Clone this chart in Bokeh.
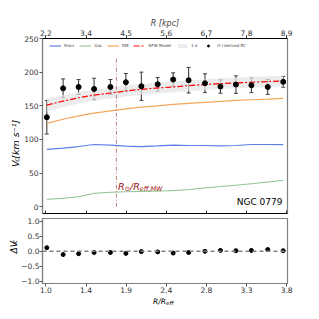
import numpy as np
from bokeh.plotting import figure
from bokeh.models import (ColumnDataSource, FixedTicker, LinearAxis, Range1d, Label,
                          Span, Legend, LegendItem, Whisker, TeeHead)
from bokeh.core.properties import value
from bokeh.layouts import column, row
from bokeh.embed import file_html
from bokeh.resources import INLINE

# ---------------- data ----------------
r_reff = [1.01, 1.20, 1.38, 1.56, 1.75, 1.93, 2.11, 2.30, 2.48, 2.66, 2.85, 3.03, 3.21, 3.39, 3.58, 3.76]
v_obs = [133, 176, 178, 175, 178, 185, 179, 182, 189, 188, 183.6, 178.6, 181.5, 180.6, 178, 185.6]
v_err = [25, 14, 11, 16, 11, 13, 21, 10, 10, 19, 14, 10, 13, 11, 11, 8]
v_stars = [85.3, 87, 89.5, 92.5, 91.5, 90, 89.5, 90.5, 91.5, 91, 91, 90.5, 91, 92.5, 92.5, 92.3]
v_gas = [11, 12.5, 15, 20, 21.5, 22.3, 22.8, 23.2, 24, 25.5, 28, 30, 32, 34.2, 36.8, 39.3]
v_dm = [124, 130, 135, 139, 142.5, 145.5, 148, 150, 152, 153.5, 155, 156.5, 158, 159, 160, 161]
v_nfw = [151, 157, 162, 166, 169, 172, 174.5, 176.5, 178, 180, 181.5, 183, 184, 185, 186, 187]
nfw_lo = [141, 148, 153.5, 158, 161, 164, 166.5, 168.5, 170, 172, 173.5, 175, 176, 177, 178, 179]
nfw_hi = [161, 166, 170.5, 174, 177, 180, 182.5, 184.5, 186, 188, 189.5, 191, 192, 193, 194, 195]
dv_res = [0.12, -0.11, -0.08, -0.04, -0.04, -0.07, -0.01, -0.02, -0.06, -0.04, 0.0, 0.03, 0.02, 0.03, 0.06, 0.02]

r_sun_reff = 1.82
r_sun_vtop = 222
r_sun_text_v = 30

x_tick_labels = ["1.0", "1.4", "1.9", "2.4", "2.8", "3.3", "3.8"]
kpc_tick_labels = ["2.2", "3.4", "4.5", "5.6", "6.7", "7.8", "8.9"]
y_ticks = [0, 50, 100, 150, 200, 250]
res_ticks = [-1.0, -0.5, 0.0, 0.5, 1.0]
res_tick_labels = ["\u22121.0", "\u22120.5", "0.0", "0.5", "1.0"]
galaxy_name = "NGC 0779"

FONT = "DejaVu Sans"
TICK_FS = "7.5px"
TICK_COLOR = "#333333"

x_ticks = [round(float(t), 4) for t in np.linspace(1.0, 3.8, 7)]

src = ColumnDataSource(dict(
    r=r_reff, v=v_obs, lo=[a - b for a, b in zip(v_obs, v_err)], hi=[a + b for a, b in zip(v_obs, v_err)],
    stars=v_stars, gas=v_gas, dm=v_dm, nfw=v_nfw, nlo=nfw_lo, nhi=nfw_hi, res=dv_res,
))

xr = Range1d(0.96, 3.81)


def text_fig(w, h):
    f = figure(width=w, height=h, x_range=Range1d(0, w), y_range=Range1d(0, h),
               output_backend="svg", toolbar_location=None, min_border=0,
               x_axis_location=None, y_axis_location=None)
    f.xgrid.visible = False
    f.ygrid.visible = False
    f.outline_line_color = None
    return f


def put(f, txt, x, y, fs, angle=0.0, style="italic", color="black"):
    f.text(x=[x], y=[y], text=[txt], angle=angle, text_font=value(FONT), text_font_size=fs,
           text_font_style=style, text_color=color, text_baseline="alphabetic", text_align="left")


# ---------------- main panel ----------------
p1 = figure(width=290, height=215, x_range=xr, y_range=Range1d(-10, 250),
            output_backend="svg", toolbar_location=None,
            min_border_left=19, min_border_right=24, min_border_top=38, min_border_bottom=2)
p1.xgrid.visible = False
p1.ygrid.visible = False
p1.outline_line_color = "gray"
p1.outline_line_width = 1.2

band = p1.varea(x="r", y1="nlo", y2="nhi", source=src, fill_color="#e4e4e4", fill_alpha=0.7)
l_stars = p1.line("r", "stars", source=src, line_color="royalblue", line_alpha=0.85, line_width=1.2)
l_gas = p1.line("r", "gas", source=src, line_color="#7fbf7f", line_alpha=0.9, line_width=1.0)
l_dm = p1.line("r", "dm", source=src, line_color="#f5a55a", line_width=1.2)
l_nfw = p1.line("r", "nfw", source=src, line_color="red", line_width=1.2, line_dash="6 2 2 2")

p1.segment(x0=[r_sun_reff], y0=[0], x1=[r_sun_reff], y1=[r_sun_vtop],
           line_color="#b06060", line_width=0.8, line_dash="4 2 1 2")

wh = Whisker(base="r", lower="lo", upper="hi", source=src, dimension="height",
             line_color="#404040", line_width=1.1,
             upper_head=TeeHead(size=4, line_color="#404040", line_width=1.0),
             lower_head=TeeHead(size=4, line_color="#404040", line_width=1.0))
p1.add_layout(wh)
pts = p1.scatter("r", "v", source=src, size=5, color="black")

ax_b = p1.xaxis[0]
ax_b.ticker = FixedTicker(ticks=x_ticks)
ax_b.major_label_text_font_size = "0px"
ax_b.major_label_text_color = None
ax_b.major_label_standoff = 0
ax_b.major_tick_in = 3
ax_b.major_tick_out = 0
ax_b.minor_tick_line_color = None
ax_b.axis_line_color = "black"
ax_b.major_tick_line_color = "#333333"

ax_l = p1.yaxis[0]
ax_l.ticker = FixedTicker(ticks=y_ticks)
ax_l.major_label_text_font_size = TICK_FS
ax_l.major_label_text_font = FONT
ax_l.major_label_text_color = TICK_COLOR
ax_l.major_label_standoff = 1
ax_l.major_tick_out = 3
ax_l.major_tick_in = 0
ax_l.minor_tick_line_color = None
ax_l.axis_line_color = "gray"
ax_l.axis_line_width = 1.2
ax_l.major_tick_line_color = "#555555"

ax_t = LinearAxis(ticker=FixedTicker(ticks=x_ticks),
                  major_label_overrides=dict(zip(x_ticks, kpc_tick_labels)),
                  axis_label="R [kpc]", axis_label_text_font=FONT, axis_label_text_font_size="8px",
                  axis_label_text_font_style="italic", axis_label_standoff=-1,
                  major_label_text_font_size=TICK_FS, major_label_text_font=FONT,
                  major_label_text_color=TICK_COLOR, major_label_standoff=0,
                  major_tick_out=3, major_tick_in=0, minor_tick_line_color=None,
                  axis_line_color="black", major_tick_line_color="#333333")
p1.add_layout(ax_t, "above")

for txt, xo, yv, fs in [("R", 1.5, r_sun_text_v, "9.5px"), ("\u2299", 8.1, r_sun_text_v - 3.7, "6.5px"),
                        ("/R", 13.5, r_sun_text_v, "9.5px"), ("eff,MW", 23.3, r_sun_text_v - 3.7, "6.5px")]:
    p1.add_layout(Label(x=r_sun_reff, y=yv, x_offset=xo, text=txt, text_font=FONT, text_font_size=fs,
                        text_font_style="italic", text_color="#a01010",
                        text_baseline="alphabetic", text_align="left"))

p1.add_layout(Label(x=240, y=12, x_units="screen", y_units="screen", text=galaxy_name,
                    text_font=FONT, text_font_size="9px", text_align="right",
                    text_baseline="alphabetic", text_color="black"))

legend = Legend(items=[
    LegendItem(label="Stars", renderers=[l_stars]),
    LegendItem(label="Gas", renderers=[l_gas]),
    LegendItem(label="DM", renderers=[l_dm]),
    LegendItem(label="NFW Model", renderers=[l_nfw]),
    LegendItem(label="1 \u03c3", renderers=[band]),
    LegendItem(label="H I derived RC", renderers=[pts]),
], orientation="horizontal", location=(7, 165), padding=0, margin=0, spacing=5,
   glyph_width=12, glyph_height=5, label_standoff=3, label_height=5, label_width=4,
   label_text_font_size="4px", label_text_font=FONT, border_line_color=None,
   background_fill_alpha=0)
p1.add_layout(legend)

# y label for the main panel
fl1 = text_fig(21, 215)
put(fl1, "V", 15.0, 57, "9.5px", angle=np.pi / 2)
put(fl1, "c", 16.6, 63.6, "6.5px", angle=np.pi / 2)
put(fl1, " [km s\u207b\u00b9]", 15.0, 67.2, "9.5px", angle=np.pi / 2)

# ---------------- residual panel ----------------
p2 = figure(width=293, height=80, x_range=xr, y_range=Range1d(-1.08, 1.1),
            output_backend="svg", toolbar_location=None,
            min_border_left=22, min_border_right=24, min_border_top=3, min_border_bottom=12)
p2.xgrid.visible = False
p2.ygrid.visible = False
p2.outline_line_color = "gray"
p2.outline_line_width = 1.2
p2.add_layout(Span(location=0, dimension="width", line_color="gray", line_width=1.5, line_dash="4 3"))
p2.scatter("r", "res", source=src, size=4, color="black")

bx = p2.xaxis[0]
bx.ticker = FixedTicker(ticks=x_ticks)
bx.major_label_overrides = dict(zip(x_ticks, x_tick_labels))
bx.major_label_text_font_size = TICK_FS
bx.major_label_text_font = FONT
bx.major_label_text_color = TICK_COLOR
bx.major_label_standoff = 0
bx.major_tick_out = 3
bx.major_tick_in = 0
bx.minor_tick_line_color = None
bx.axis_line_color = "gray"
bx.axis_line_width = 1.2
bx.major_tick_line_color = "#555555"

by = p2.yaxis[0]
by.ticker = FixedTicker(ticks=res_ticks)
by.major_label_overrides = dict(zip(res_ticks, res_tick_labels))
by.major_label_text_font_size = TICK_FS
by.major_label_text_font = FONT
by.major_label_text_color = TICK_COLOR
by.major_label_standoff = 0
by.major_tick_out = 3
by.major_tick_in = 0
by.minor_tick_line_color = None
by.axis_line_color = "gray"
by.axis_line_width = 1.2
by.major_tick_line_color = "#555555"

fl2 = text_fig(18, 80)
put(fl2, "\u0394V", 13.0, 37, "9px", angle=np.pi / 2)
put(fl2, "c", 14.5, 49.3, "6.5px", angle=np.pi / 2)

# x label for the residual panel
fb = text_fig(311, 24)
put(fb, "R/R", 152.5, 18, "7.5px")
put(fb, "eff", 165.5, 16.3, "5.5px")

layout = column(row(fl1, p1, spacing=0), row(fl2, p2, spacing=0), fb, spacing=0)
open("out.html", "w").write(file_html(layout, INLINE))
